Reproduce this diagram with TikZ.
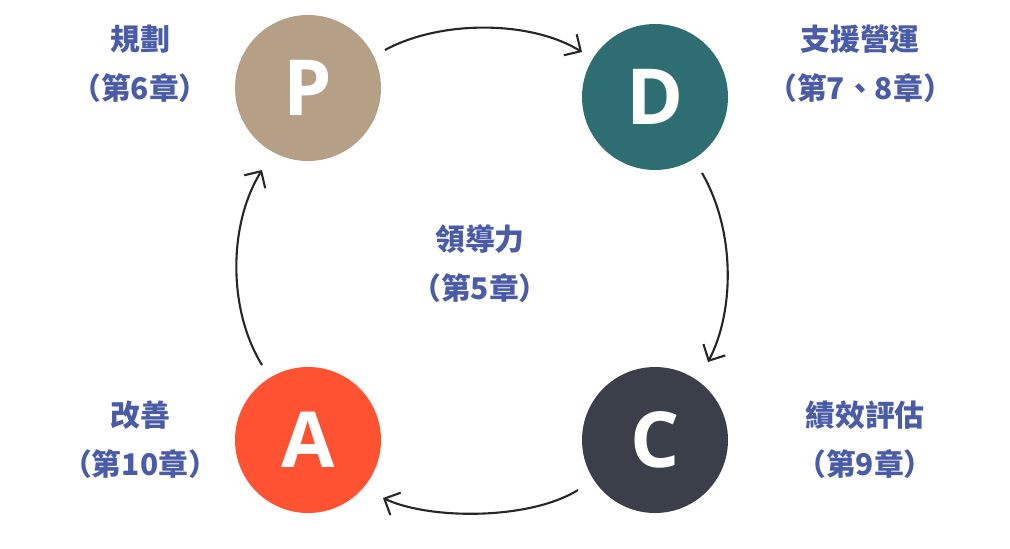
\documentclass[tikz,border=0pt]{standalone}
\usepackage{fontspec}
\setsansfont{Open Sans}
\newfontfamily\cjk{Noto Sans CJK TC}
\usetikzlibrary{arrows.meta}
\definecolor{pcol}{HTML}{B59F87}
\definecolor{dcol}{HTML}{2E6E72}
\definecolor{ccol}{HTML}{3B3F4A}
\definecolor{acol}{HTML}{FF5233}
\definecolor{labcol}{HTML}{4A5CA8}
\begin{document}
\begin{tikzpicture}[x=0.02cm, y=-0.02cm,
  phase/.style={circle, minimum size=146*0.02cm, inner sep=0pt, text=white,
    font=\sffamily\bfseries\fontsize{44}{44}\selectfont},
  lab/.style={text=labcol, align=center,
    font=\cjk\bfseries\fontsize{17}{28}\selectfont},
  cyc/.style={-{Straight Barb[length=7pt, width=14pt]}, line width=1.2pt, black!85}]

  \useasboundingbox (0,0) rectangle (1010,548);

  \node[phase, fill=pcol] (p) at (308, 88) {P};
  \node[phase, fill=dcol] (d) at (655, 97) {D};
  \node[phase, fill=ccol] (c) at (655, 440) {C};
  \node[phase, fill=acol] (a) at (308, 440) {A};

  \node[lab] (lp) at (140, 64) {規劃\\（第6章）};
  \node[lab] (ld) at (860, 64) {支援營運\\（第7、8章）};
  \node[lab] (lc) at (865, 440) {績效評估\\（第9章）};
  \node[lab] (la) at (140, 440) {改善\\（第10章）};
  \node[lab] (lm) at (480, 264) {領導力\\（第5章）};

  \coordinate (p1) at (385, 50);  \coordinate (d1) at (582, 52);
  \coordinate (d2) at (702, 173); \coordinate (c2) at (708, 362);
  \coordinate (c3) at (578, 490); \coordinate (a3) at (383, 498);
  \coordinate (a4) at (262, 365); \coordinate (p4) at (262, 170);

  \draw[cyc] (p1) .. controls (440, 20) and (530, 20) .. (d1);
  \draw[cyc] (d2) .. controls (735, 230) and (735, 310) .. (c2);
  \draw[cyc] (c3) .. controls (530, 520) and (430, 520) .. (a3);
  \draw[cyc] (a4) .. controls (228, 310) and (228, 225) .. (p4);

\end{tikzpicture}
\end{document}
